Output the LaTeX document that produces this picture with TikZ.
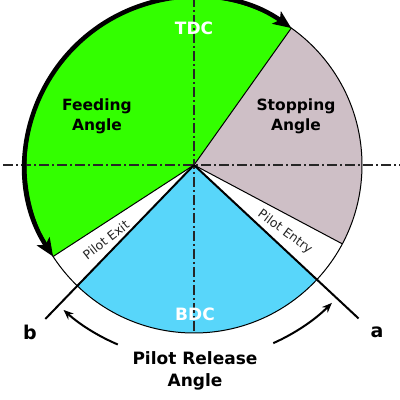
\documentclass[tikz,border=0pt]{standalone}
\usepackage{fontspec}
\setmainfont{DejaVu Sans}
\usetikzlibrary{arrows.meta}
\definecolor{feedgreen}{RGB}{51,255,0}
\definecolor{stopgray}{RGB}{206,191,198}
\definecolor{relblue}{RGB}{88,214,250}
\begin{document}
\begin{tikzpicture}[x=1pt,y=1pt,
  thinline/.style={line width=1pt,black},
  bladeline/.style={line width=2pt,black},
  centerline/.style={line width=1.1pt,black!85,dash pattern=on 10pt off 3pt on 2pt off 3pt},
  bigtext/.style={font=\bfseries\fontsize{15.5}{20}\selectfont,align=center},
  relarrow/.style={line width=2pt,-{Stealth[length=10pt,width=8pt]}},
  pilottext/.style={font=\fontsize{12.5}{14}\selectfont,text=black!85}]
\useasboundingbox (0,0) rectangle (400,400);
\clip (0,0) rectangle (400,400);
\def\R{168}
\coordinate (C) at (194,235);
% sectors
\fill[feedgreen] (C) -- ++(54.6:\R) arc[start angle=54.6,end angle=213,radius=\R] -- cycle;
\fill[stopgray] (C) -- ++(-28:\R) arc[start angle=-28,end angle=54.6,radius=\R] -- cycle;
\fill[relblue] (C) -- ++(-134:\R) arc[start angle=-134,end angle=-43,radius=\R] -- cycle;
% named points
\path (C) ++(54.6:\R) coordinate (gs);
\path (C) ++(-28:\R) coordinate (se);
\path (C) ++(213:\R) coordinate (ge);
\path (C) ++(-43:225) coordinate (aend);
\path (C) ++(-134:214) coordinate (bend);
\path (C) ++(0,\R) coordinate (top);
\path (C) ++(0,-\R) coordinate (bot);
\coordinate (hl) at (3,235);
\coordinate (hr) at (400,235);
% outline
\draw[thinline] (C) circle[radius=\R];
\draw[thinline] (C) -- (gs);
\draw[thinline] (C) -- (se);
\draw[thinline] (C) -- (ge);
% centre lines
\draw[centerline] (hl) -- (hr);
\draw[centerline] (top) -- (bot);
% blade lines
\draw[bladeline] (C) -- (aend);
\draw[bladeline] (C) -- (bend);
% feeding arc arrow
\draw[line width=4.5pt,{Stealth[length=18pt,width=15pt,inset=4pt]}-{Stealth[length=18pt,width=15pt,inset=4pt]}]
  (ge) arc[start angle=213,end angle=54.6,radius=\R];
% texts
\node[bigtext] (feed) at (97,284) {Feeding\\Angle};
\node[bigtext] (stop) at (296,284) {Stopping\\Angle};
\node[font=\bfseries\fontsize{17}{18}\selectfont,text=white] (tdc) at (194,372) {TDC};
\node[font=\bfseries\fontsize{17}{18}\selectfont,text=white] (bdc) at (195,86) {BDC};
\node[font=\bfseries\fontsize{17}{22}\selectfont,align=center] (rel) at (195,29) {Pilot Release\\Angle};
\node[font=\bfseries\fontsize{19}{20}\selectfont] (la) at (377,68) {a};
\node[font=\bfseries\fontsize{19}{20}\selectfont] (lb) at (30,68) {b};
\node[pilottext,rotate=38] (exit) at (106,160) {Pilot Exit};
\node[pilottext,rotate=-36.5] (entry) at (285,168) {Pilot Entry};
% release arrows
\path (C) ++(-113:195) coordinate (r1s);
\path (C) ++(-66:195) coordinate (r2s);
\draw[relarrow] (r1s) arc[start angle=-113,end angle=-132,radius=195];
\draw[relarrow] (r2s) arc[start angle=-66,end angle=-45,radius=195];
\end{tikzpicture}
\end{document}
